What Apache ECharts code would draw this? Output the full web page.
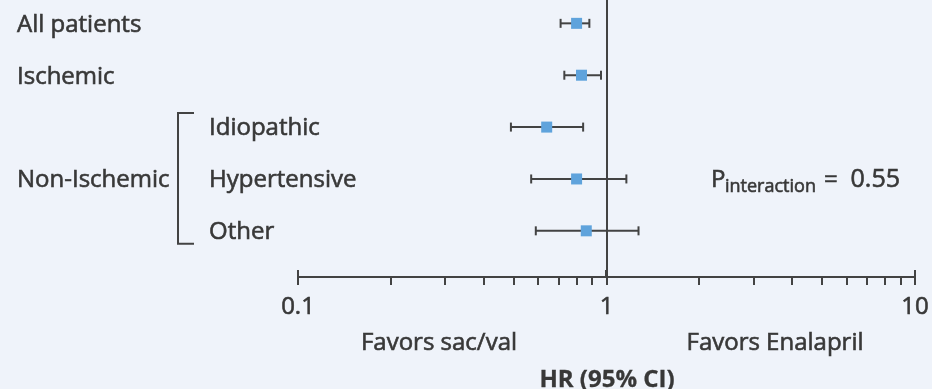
<!DOCTYPE html>
<html>
<head>
<meta charset="utf-8">
<script src="https://cdn.jsdelivr.net/npm/echarts@6/dist/echarts.min.js"></script>
<style>
  html, body { margin: 0; padding: 0; background: #eff3fa; }
  #chart { width: 932px; height: 389px; }
</style>
</head>
<body>
<div id="chart"></div>
<script>
// Subgroup rows, top to bottom
const subgroups = ['All patients', 'Ischemic', 'Idiopathic', 'Hypertensive', 'Other'];
const subgroupLevel = [0, 0, 1, 1, 1];          // 0 = main row, 1 = nested under a group
const hazardRatio = [0.80, 0.83, 0.64, 0.80, 0.86];
const ciLower = [0.71, 0.73, 0.49, 0.57, 0.59];
const ciUpper = [0.88, 0.96, 0.84, 1.16, 1.27];

// Bracketed group spanning rows 2..4
const groupName = 'Non-Ischemic';
const groupRows = [2, 3, 4];

// Log axis decorations
const majorTicks = [0.1, 1, 10];
const minorTicks = [0.2, 0.3, 0.4, 0.5, 0.6, 0.7, 0.8, 0.9, 2, 3, 4, 5, 6, 7, 8, 9];
const referenceValue = 1;

// Texts
const pInteraction = '0.55';
const favorsLeft = 'Favors sac/val';
const favorsRight = 'Favors Enalapril';
const axisTitle = 'HR (95% CI)';

const INK = '#434343';
const TEXT = '#383838';
const MARK = '#5fa3dc';
const FONT = '"Open Sans", "Noto Sans", sans-serif';
const EMBOLDEN = 0.6;   // thin outline in the text colour for a slightly heavier face
const Y_MIN = -0.45, Y_MAX = 4.89;

function textStyle(text, x, y, size, align, extra) {
  return Object.assign({
    text, x, y,
    fill: TEXT,
    stroke: TEXT,
    lineWidth: EMBOLDEN,
    font: size + 'px ' + FONT,
    align: align || 'left',
    verticalAlign: 'middle'
  }, extra || {});
}

const chart = echarts.init(document.getElementById('chart'), null, { renderer: 'canvas' });

const forestData = subgroups.map((s, i) => [ciLower[i], ciUpper[i], hazardRatio[i], i]);
const labelData = subgroups.map((s, i) => [referenceValue, i, subgroupLevel[i]]);

chart.setOption({
  backgroundColor: '#eff3fa',
  animation: false,
  grid: { left: 298, right: 16, top: 0, bottom: 112 },
  xAxis: {
    type: 'log',
    logBase: 10,
    min: 0.1,
    max: 10,
    splitLine: { show: false },
    axisLine: { show: true, onZero: false, lineStyle: { color: INK, width: 2 } },
    axisTick: { show: true, length: 8, lineStyle: { color: INK, width: 2 } },
    axisLabel: {
      color: TEXT, fontSize: 24, fontFamily: FONT, margin: 18,
      textBorderColor: TEXT, textBorderWidth: EMBOLDEN,
      formatter: v => String(+(+v).toPrecision(3))
    }
  },
  yAxis: { type: 'value', min: Y_MIN, max: Y_MAX, inverse: true, show: false },
  series: [
    {
      // minor ticks on the log axis, plus upward stubs on the major ticks
      type: 'custom',
      name: 'ticks',
      clip: false,
      z: 1,
      data: minorTicks.map(v => [v, 0]).concat(majorTicks.map(v => [v, 1])),
      encode: { x: 0 },
      renderItem: (params, api) => {
        const p = api.coord([api.value(0), Y_MAX]);
        const x = Math.round(p[0]);
        const isMajor = api.value(1) === 1;
        return {
          type: 'line',
          shape: isMajor ? { x1: x, y1: p[1] - 7, x2: x, y2: p[1] }
                         : { x1: x, y1: p[1], x2: x, y2: p[1] + 8 },
          style: { stroke: INK, lineWidth: 2 }
        };
      },
      markLine: {
        silent: true,
        symbol: 'none',
        label: { show: false },
        lineStyle: { color: INK, width: 2, type: 'solid' },
        data: [{ xAxis: referenceValue }]
      }
    },
    {
      type: 'custom',
      name: 'HR',
      clip: false,
      z: 5,
      data: forestData,
      encode: { x: [0, 1, 2], y: 3 },
      renderItem: (params, api) => {
        const row = api.value(3);
        const lo = api.coord([api.value(0), row]);
        const hi = api.coord([api.value(1), row]);
        const mid = api.coord([api.value(2), row]);
        const cap = 4.5, half = 5.5;
        const ls = { stroke: INK, lineWidth: 2 };
        return {
          type: 'group',
          children: [
            { type: 'line', shape: { x1: lo[0], y1: lo[1], x2: hi[0], y2: hi[1] }, style: ls },
            { type: 'line', shape: { x1: lo[0], y1: lo[1] - cap, x2: lo[0], y2: lo[1] + cap }, style: ls },
            { type: 'line', shape: { x1: hi[0], y1: hi[1] - cap, x2: hi[0], y2: hi[1] + cap }, style: ls },
            { type: 'rect', shape: { x: mid[0] - half, y: mid[1] - half, width: half * 2, height: half * 2 },
              style: { fill: MARK } }
          ]
        };
      }
    },
    {
      // row labels
      type: 'custom',
      name: 'labels',
      clip: false,
      z: 5,
      data: labelData,
      encode: { x: 0, y: 1 },
      renderItem: (params, api) => {
        const p = api.coord([api.value(0), api.value(1)]);
        return {
          type: 'text',
          style: textStyle(subgroups[params.dataIndex], api.value(2) === 1 ? 209 : 17, p[1] + 1.5, 24)
        };
      }
    },
    {
      // group bracket and its label
      type: 'custom',
      name: 'group',
      clip: false,
      z: 5,
      data: [[referenceValue, groupRows[0], groupRows[1], groupRows[2]]],
      encode: { x: 0, y: [1, 2, 3] },
      renderItem: (params, api) => {
        const top = api.coord([api.value(0), api.value(1)])[1] - 14;
        const middle = api.coord([api.value(0), api.value(2)])[1];
        const bottom = api.coord([api.value(0), api.value(3)])[1] + 13;
        return {
          type: 'group',
          children: [
            { type: 'polyline',
              shape: { points: [[194, top], [178, top], [178, bottom], [194, bottom]] },
              style: { stroke: INK, lineWidth: 2, fill: null } },
            { type: 'text', style: textStyle(groupName, 17, middle + 1.5, 24) }
          ]
        };
      }
    }
  ],
  graphic: [
    { type: 'text', style: textStyle('P', 711, 180, 24) },
    { type: 'text', style: textStyle('interaction', 725, 187, 18) },
    { type: 'text', style: textStyle('=', 824, 180, 24) },
    { type: 'text', style: textStyle(pInteraction, 900, 180, 25, 'right') },
    { type: 'text', style: textStyle(favorsLeft, 439, 343, 24, 'center') },
    { type: 'text', style: textStyle(favorsRight, 775, 343, 24, 'center') },
    { type: 'text', style: textStyle(axisTitle, 607, 380, 24, 'center',
        { font: 'bold 24px ' + FONT, lineWidth: 0.3 }) }
  ]
});
</script>
</body>
</html>
